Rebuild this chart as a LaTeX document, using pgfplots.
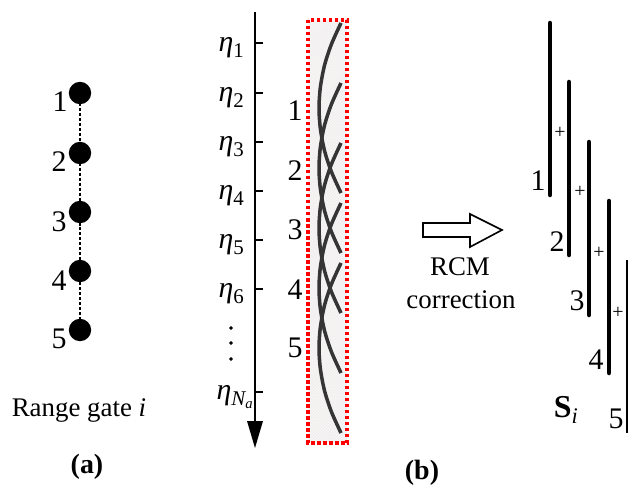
\documentclass[border=0pt]{standalone}
\usepackage{fontspec}
\setmainfont{Liberation Serif}
\usepackage{pgfplots}
\pgfplotsset{compat=1.18}
\usetikzlibrary{patterns}
\definecolor{curvegray}{HTML}{353535}
\definecolor{boxfill}{HTML}{F8F5F5}
\newcommand{\fs}[1]{\fontsize{#1}{#1}\selectfont}
\newcommand{\etalab}[1]{{\itshape η}\textsubscript{#1}}
\begin{document}
\begin{tikzpicture}
\begin{axis}[width=628bp,height=495bp,scale only axis,
  xmin=0,xmax=628,ymin=0,ymax=495,y dir=reverse,hide axis,clip=false]
\path (axis cs:0,0) rectangle (axis cs:628,495);
% ---------- panel (a)
\addplot[black, densely dashed, line width=1.3bp, mark=*, mark size=10.5bp, mark options={solid}]
  coordinates {(80,93) (80,153) (80,212) (80,271) (80,330)};
\node[font=\fs{30}] at (axis cs:60,102) {1};
\node[font=\fs{30}] at (axis cs:59,162) {2};
\node[font=\fs{30}] at (axis cs:59,222) {3};
\node[font=\fs{30}] at (axis cs:59,281) {4};
\node[font=\fs{30}] at (axis cs:59,339) {5};
\node[font=\fs{27}] at (axis cs:79,410) {Range gate \textit{i}};
\node[font=\fs{28}\bfseries] at (axis cs:87,467) {(a)};
% ---------- panel (b) left: slow time axis
\draw[line width=1.6bp] (axis cs:255,12) -- (axis cs:255,425);
\fill (axis cs:247,421) -- (axis cs:263,421) -- (axis cs:255,448) -- cycle;
\foreach \yy in {43,93,142,191,240,289,392}{
  \edef\tmp{\noexpand\draw[line width=1.6bp] (axis cs:255,\yy) -- (axis cs:263,\yy);}\tmp }
\node[font=\fs{30}, anchor=west] at (axis cs:215,48) {\etalab{1}};
\node[font=\fs{30}, anchor=west] at (axis cs:215,98) {\etalab{2}};
\node[font=\fs{30}, anchor=west] at (axis cs:215,147) {\etalab{3}};
\node[font=\fs{30}, anchor=west] at (axis cs:215,196) {\etalab{4}};
\node[font=\fs{30}, anchor=west] at (axis cs:215,245) {\etalab{5}};
\node[font=\fs{30}, anchor=west] at (axis cs:215,294) {\etalab{6}};
\node[font=\fs{30}, anchor=west] at (axis cs:213,397) {{\itshape η}\textsubscript{\itshape N\textsubscript{a}}};
\addplot[only marks, mark=*, mark size=1.7bp, black] coordinates {(231,328) (231,343) (231,359)};
\node[font=\fs{30}] at (axis cs:295,111) {1};
\node[font=\fs{30}] at (axis cs:295,171) {2};
\node[font=\fs{30}] at (axis cs:295,230) {3};
\node[font=\fs{30}] at (axis cs:295,290) {4};
\node[font=\fs{30}] at (axis cs:295,348) {5};
% box
\fill[boxfill] (axis cs:308,20) rectangle (axis cs:347,443);
\fill[pattern=north east lines, pattern color=black!8] (axis cs:308,20) rectangle (axis cs:347,443);
\draw[red, line width=3.2bp, dash pattern=on 3.5bp off 2.5bp] (axis cs:308,20) rectangle (axis cs:347,443);
% migration curves
\addplot[smooth, curvegray, line width=3.5bp] coordinates {(341,23) (331.5,44) (324.6,65) (320.4,87) (319,108) (320.4,129) (324.6,151) (331.5,172) (341,193)};
\addplot[smooth, curvegray, line width=3.5bp] coordinates {(341,83) (331.5,104) (324.6,125) (320.4,147) (319,168) (320.4,189) (324.6,211) (331.5,232) (341,253)};
\addplot[smooth, curvegray, line width=3.5bp] coordinates {(341,143) (331.5,164) (324.6,185) (320.4,207) (319,228) (320.4,249) (324.6,271) (331.5,292) (341,313)};
\addplot[smooth, curvegray, line width=3.5bp] coordinates {(341,203) (331.5,224) (324.6,245) (320.4,267) (319,288) (320.4,309) (324.6,331) (331.5,352) (341,373)};
\addplot[smooth, curvegray, line width=3.5bp] coordinates {(341,263) (331.5,284) (324.6,305) (320.4,327) (319,348) (320.4,369) (324.6,391) (331.5,412) (341,433)};
% ---------- hollow arrow
\draw[line width=1.6bp, fill=white] (axis cs:423,223) -- (axis cs:470,223) -- (axis cs:470,214) -- (axis cs:502,230) -- (axis cs:470,247) -- (axis cs:470,237) -- (axis cs:423,237) -- cycle;
\node[font=\fs{27}] at (axis cs:460,267) {RCM};
\node[font=\fs{27}] at (axis cs:461,300) {correction};
\node[font=\fs{28}\bfseries] at (axis cs:422,473) {(b)};
% ---------- corrected signals
\addplot[black, line width=4.5bp, line cap=round] coordinates {(550,23) (550,195)};
\addplot[black, line width=4.5bp, line cap=round] coordinates {(569,82) (569,255)};
\addplot[black, line width=4.5bp, line cap=round] coordinates {(589,142) (589,315)};
\addplot[black, line width=4.5bp, line cap=round] coordinates {(609,201) (609,373)};
\addplot[black, line width=1.5bp] coordinates {(627,260) (627,433)};
\node[font=\fs{30}] at (axis cs:538,181) {1};
\node[font=\fs{30}] at (axis cs:557,242) {2};
\node[font=\fs{30}] at (axis cs:577,301) {3};
\node[font=\fs{30}] at (axis cs:596,360) {4};
\node[font=\fs{30}] at (axis cs:616,419) {5};
\node[font=\fs{20}] at (axis cs:560,133) {+};
\node[font=\fs{20}] at (axis cs:580,192) {+};
\node[font=\fs{20}] at (axis cs:599,253) {+};
\node[font=\fs{20}] at (axis cs:618,313) {+};
\node[font=\fs{32}] at (axis cs:566,410) {\textbf{S}\textsubscript{\itshape i}};
\end{axis}
\end{tikzpicture}
\end{document}
